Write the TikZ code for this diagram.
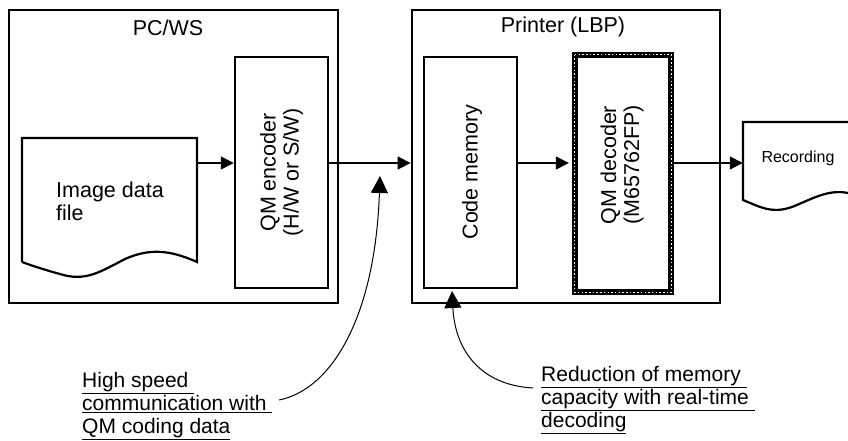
\documentclass[tikz,border=0pt]{standalone}
\usepackage{fontspec}
\setmainfont{Liberation Sans}
\usetikzlibrary{arrows.meta}
\tikzset{
  outerbox/.style={draw, line width=2.8pt, inner sep=0pt},
  innerbox/.style={draw, line width=2.5pt, inner sep=0pt},
  flow/.style={line width=1.5pt, -{Triangle[length=13pt,width=13pt]}},
  callout/.style={line width=1pt, -{Triangle[length=17pt,width=17pt]}},
  lbl/.style={font=\fontsize{21.5}{23}\selectfont, inner sep=0pt},
  note/.style={font=\fontsize{21}{23}\selectfont, inner sep=0pt, align=left, anchor=north west},
  docshape/.style={line width=2.2pt},
}
\begin{document}
\begin{tikzpicture}[x=1pt,y=-1pt]
\useasboundingbox (0,0) rectangle (848,441);
\coordinate (fy) at (0,163);
% outer boxes
\node[outerbox, minimum width=329pt, minimum height=293pt] (pc) at (173.5,156.5) {};
\node[lbl] (pct) at (168,28) {PC/WS};
\node[outerbox, minimum width=308pt, minimum height=293pt] (prn) at (566,156.5) {};
\node[lbl] (prnt) at (563,27) {Printer (LBP)};
% image data file
\node[minimum width=175pt, minimum height=124pt, inner sep=0pt] (img) at (109.5,200) {};
\draw[docshape] (22,262) -- (22,138) -- (197,138) -- (197,262)
  .. controls (170,250) and (150,248) .. (125,259)
  .. controls (100,272) and (85,282) .. (60,274)
  .. controls (45,270) and (30,265) .. (22,262);
\node[lbl, align=left, anchor=west, font=\fontsize{21.5}{23}\selectfont] (imgtxt) at (56,201) {Image data\\file};
% encoder
\node[innerbox, minimum width=93pt, minimum height=231pt] (enc) at (281.5,172.5) {};
\node[lbl, rotate=90, align=center] (enct) at (enc.center) {QM encoder\\(H/W or S/W)};
% code memory
\node[innerbox, minimum width=93pt, minimum height=231pt] (mem) at (470.5,172.5) {};
\node[lbl, rotate=90] (memt) at (472,172) {Code memory};
% decoder
\node[minimum width=96pt, minimum height=237pt, inner sep=0pt] (dec) at (623,173.5) {};
\draw[line width=5.5pt] (dec.north west) rectangle (dec.south east);
\draw[white, line width=1.1pt, dash pattern=on 1.5pt off 2.2pt] (dec.north west) rectangle (dec.south east);
\node[lbl, rotate=90, align=center] (dect) at (622,165) {QM decoder\\(M65762FP)};
% recording
\node[minimum width=105pt, minimum height=80pt, inner sep=0pt] (rec) at (795.5,162) {};
\draw[docshape] (848,122) -- (743,122) -- (743,200)
  .. controls (760,207) and (772,214) .. (792,207)
  .. controls (812,199) and (828,189) .. (848,193);
\node[font=\fontsize{16}{18}\selectfont, inner sep=0pt] (rect) at (798,158) {Recording};
% flow arrows
\draw[flow] (img.east|-fy) -- (enc.west|-fy);
\draw[flow] (enc.east|-fy) -- (prn.west|-fy);
\draw[flow] (mem.east|-fy) -- ([xshift=-6pt]dec.west|-fy);
\draw[flow] ([xshift=2.5pt]dec.east|-fy) -- (rec.west|-fy);
% notes
\node[note] (n1) at (82,372) {\underline{High speed\ }\\\underline{communication with\ }\\\underline{QM coding data}};
\node[note] (n2) at (541,366) {\underline{Reduction of memory\ }\\\underline{capacity with real-time\ }\\\underline{decoding}};
\coordinate (c1) at (279,400);
\coordinate (c2) at (533,388);
\coordinate (t1) at (380,176);
\coordinate (t2) at (452,291);
\draw[callout] (c1) .. controls (330,390) and (375,320) .. (t1);
\draw[callout] (c2) .. controls (480,385) and (455,350) .. (t2);
\end{tikzpicture}
\end{document}
